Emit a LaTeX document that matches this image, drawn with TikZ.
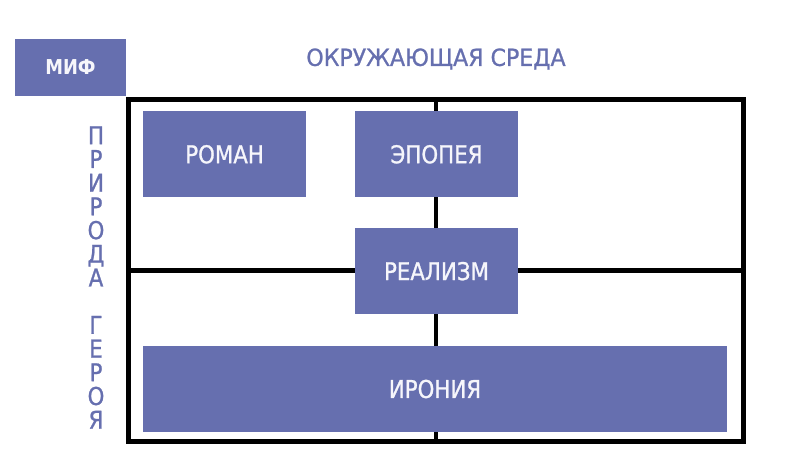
\documentclass[tikz,border=0pt]{standalone}
\usepackage{fontspec}
\setmainfont[FakeStretch=0.87]{DejaVu Sans}
\newfontfamily\genrefont[FakeStretch=0.87,FakeBold=1]{DejaVu Sans}
\newfontfamily\sredafont[FakeStretch=0.94,FakeBold=1]{DejaVu Sans}
\usepackage{tikz}
\usetikzlibrary{positioning}
\definecolor{mifBlue}{HTML}{666FAF}
\definecolor{mifText}{HTML}{F6F6FB}
\tikzset{
  genre/.style={
    fill=mifBlue,
    text=mifText,
    minimum width=163pt,
    minimum height=86pt,
    inner sep=0pt,
    font=\genrefont\fontsize{24.5}{28}\selectfont
  },
  axislabel/.style={
    text=mifBlue,
    inner sep=0pt,
    font=\sredafont\fontsize{23.5}{23.7}\selectfont
  },
  frameline/.style={line width=4.5pt, draw=black}
}

\begin{document}
\begin{tikzpicture}[x=1pt, y=-1pt]
  \useasboundingbox (0,0) rectangle (800,461);

  % outer frame and its two axes
  \node[frameline, rectangle, inner sep=0pt, minimum width=615pt, minimum height=342pt] (frame) at (436,270.7) {};
  \draw[frameline] (frame.north) -- (frame.south);
  \draw[frameline] (frame.west) -- (frame.east);

  % top-left corner and axis captions
  \node[genre, minimum width=111pt, minimum height=57pt, font=\bfseries\fontsize{20.5}{22}\selectfont] (mif) at (70.5,67.5) {МИФ};
  \node[axislabel] (sreda) at (436,59) {ОКРУЖАЮЩАЯ СРЕДА};
  \node[axislabel, align=center, font=\genrefont\fontsize{24.5}{23.7}\selectfont] (priroda) at (96,277.5) {П\\Р\\И\\Р\\О\\Д\\А\\[23.7pt]Г\\Е\\Р\\О\\Я};

  % genres
  \node[genre] (epopeya) at (436.5,154.3) {ЭПОПЕЯ};
  \node[genre, left=48.5pt of epopeya] (roman) {РОМАН};
  \node[genre, below=30.5pt of epopeya] (realizm) {РЕАЛИЗМ};
  \node[genre, minimum width=584pt] (ironiya) at (435,389) {ИРОНИЯ};
\end{tikzpicture}
\end{document}
